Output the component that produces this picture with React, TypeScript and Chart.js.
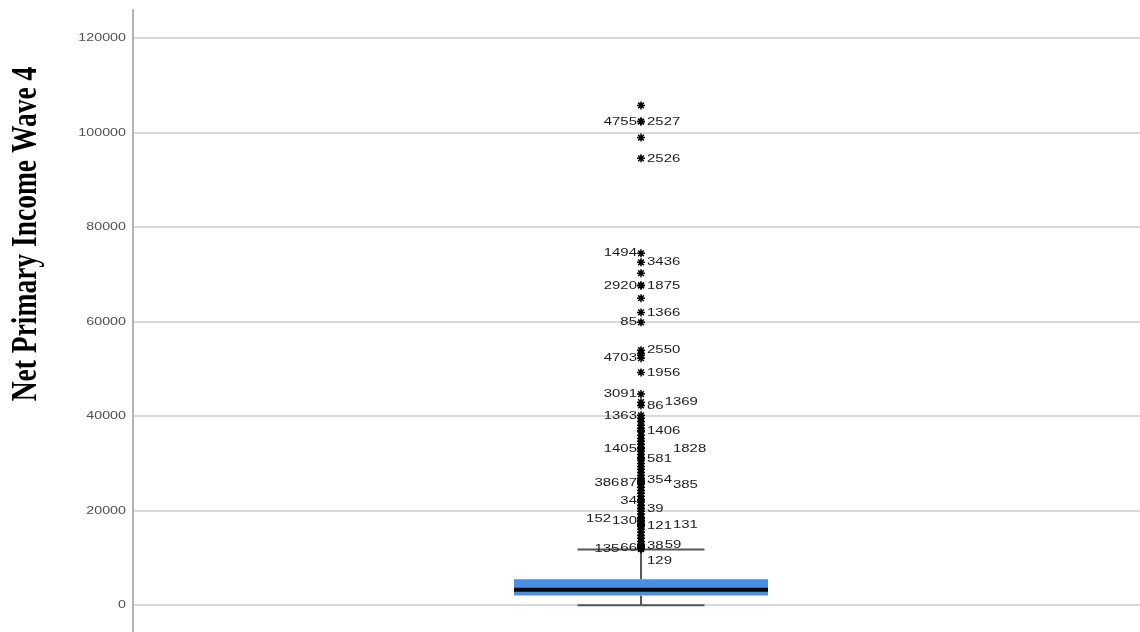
import { useEffect, useRef } from 'react';
import { Chart, registerables } from 'chart.js';

Chart.register(...registerables);

// ---- data -------------------------------------------------------------
const CATEGORIES = [''];
const Y_TITLE = 'Net Primary Income Wave 4';
const Y_TICKS = [0, 20000, 40000, 60000, 80000, 100000, 120000];
const Y_RANGE = [-5650, 126000];

// lower whisker, Q1, median, Q3, upper whisker
const BOX_SUMMARY = [0, 2100, 3300, 5500, 11800];

// outlying cases that carry a case-number label (listed in labelling order)
const LABELED_CASE_IDS = [
  '2527', '4755', '2526', '3436', '1494', '1875', '2920', '1366', '85', '2550',
  '4703', '1956', '86', '3091', '1369', '1363', '1406', '581', '1405', '1828',
  '354', '87', '385', '386', '39', '34', '121', '130', '131', '152',
  '38', '66', '59', '135', '129',
];
const LABELED_CASE_VALUES = [
  102400, 102400, 94600, 72600, 74500, 67700, 67700, 62000, 59900, 54000,
  52300, 49300, 42300, 44700, 43000, 40200, 37000, 31100, 33200, 33200,
  26500, 26000, 25600, 26000, 20500, 22200, 16900, 17800, 17100, 18400,
  12500, 12100, 12700, 11950, 11900,
];

// remaining outlying cases (no room for a label)
const UNLABELED_OUTLIERS = [
  105800, 99000, 70300, 65000, 53300, 52900,
  39600, 38900, 38100, 37500, 36800, 36000, 35300, 34700, 34100, 33400,
  32600, 31900, 31300, 30700, 30000, 29400, 28800, 28100, 27500, 26900,
  26200, 25600, 25000, 24300, 23700, 23100, 22400, 21800, 21200, 20500,
  19900, 19300, 18600, 18000, 17400, 16700, 16100, 15500, 14800, 14200,
  13500, 12900, 12300, 12000,
];

// ---- styling ----------------------------------------------------------
const BOX_COLOR = '#4a8fe2';
const TEXT_STRETCH = 1.3; // glyphs are drawn slightly widened
const TICK_FONT = '11px "Liberation Sans", Arial, sans-serif';
const LABEL_FONT = '11.5px "Liberation Sans", Arial, sans-serif';
const TITLE_FONT = 'bold 27.5px "Liberation Serif", "Times New Roman", serif';
const AXIS_WIDTH = 133;
const ROW = 12;

function drawStretched(ctx: CanvasRenderingContext2D, text: string, x: number, y: number, align: CanvasTextAlign) {
  ctx.save();
  ctx.translate(x, y);
  ctx.scale(TEXT_STRETCH, 1);
  ctx.textAlign = align;
  ctx.textBaseline = 'middle';
  ctx.fillText(text, 0, 0);
  ctx.restore();
}

type Box = { l: number; r: number; t: number; b: number; tier: number; text?: string; y?: number };

// Case labels sit beside their point: right first, then left, then one step
// further out; when a row is full the label drops to the next free row.
function placeCaseLabels(ctx: CanvasRenderingContext2D, cx: number, toPixel: (v: number) => number) {
  const placed: Box[] = [];
  const overlaps = (a: Box, b: Box) => a.l < b.r && a.r > b.l && a.t < b.b && a.b > b.t;
  const hits = (a: Box) => placed.filter((p) => overlaps(a, p));
  LABELED_CASE_IDS.forEach((id, i) => {
    const w = ctx.measureText(id).width * TEXT_STRETCH;
    const y0 = toPixel(LABELED_CASE_VALUES[i]);
    for (let k = 0; k < 8; k++) {
      const yy = y0 + k * ROW;
      const t = yy - ROW / 2;
      const b = yy + ROW / 2;
      const r1: Box = { l: cx + 6, r: cx + 6 + w, t, b, tier: 1 };
      const l1: Box = { l: cx - 4 - w, r: cx - 4, t, b, tier: 1 };
      const cands: Box[] = [r1, l1];
      const hr = hits(r1);
      const hl = hits(l1);
      if (hr.length && hr.every((p) => p.tier === 1)) {
        const x0 = Math.max(...hr.map((p) => p.r)) + 1;
        cands.push({ l: x0, r: x0 + w, t, b, tier: 2 });
      }
      if (hl.length && hl.every((p) => p.tier === 1)) {
        const x1 = Math.min(...hl.map((p) => p.l)) - 1;
        cands.push({ l: x1 - w, r: x1, t, b, tier: 2 });
      }
      const pick = cands.find((c) => hits(c).length === 0);
      if (pick) {
        placed.push({ ...pick, text: id, y: yy });
        break;
      }
    }
  });
  return placed;
}

const boxplotDecor = {
  id: 'boxplotDecor',
  beforeDatasetsDraw(chart: any) {
    const { ctx } = chart;
    const y = chart.scales.y;
    const bar = chart.getDatasetMeta(1).data[0];
    const cx = bar.x;
    const capHalf = bar.width / 4;
    const [lo, q1, , q3, hi] = BOX_SUMMARY;
    ctx.save();
    ctx.lineCap = 'butt';
    // whisker stems
    ctx.strokeStyle = '#222';
    ctx.lineWidth = 1.5;
    ctx.beginPath();
    ctx.moveTo(cx, y.getPixelForValue(q3));
    ctx.lineTo(cx, y.getPixelForValue(hi));
    ctx.moveTo(cx, y.getPixelForValue(q1));
    ctx.lineTo(cx, y.getPixelForValue(lo));
    ctx.stroke();
    // whisker caps
    ctx.strokeStyle = '#555';
    ctx.lineWidth = 2;
    ctx.beginPath();
    for (const v of [lo, hi]) {
      const py = y.getPixelForValue(v);
      ctx.moveTo(cx - capHalf, py);
      ctx.lineTo(cx + capHalf, py);
    }
    ctx.stroke();
    ctx.restore();
  },
  afterDatasetsDraw(chart: any) {
    const { ctx } = chart;
    const y = chart.scales.y;
    const bar = chart.getDatasetMeta(1).data[0];
    const cx = bar.x;
    const half = bar.width / 2;
    // median
    ctx.save();
    ctx.strokeStyle = '#080808';
    ctx.lineWidth = 4;
    const my = y.getPixelForValue(BOX_SUMMARY[2]);
    ctx.beginPath();
    ctx.moveTo(cx - half, my);
    ctx.lineTo(cx + half, my);
    ctx.stroke();
    // case labels
    ctx.font = LABEL_FONT;
    ctx.fillStyle = '#1c1c1c';
    const labels = placeCaseLabels(ctx, cx, (v) => y.getPixelForValue(v));
    for (const lb of labels) drawStretched(ctx, lb.text as string, lb.l, lb.y as number, 'left');
    ctx.restore();
  },
  afterDraw(chart: any) {
    const { ctx } = chart;
    const y = chart.scales.y;
    ctx.save();
    // tick labels
    ctx.font = TICK_FONT;
    ctx.fillStyle = '#505050';
    for (const v of Y_TICKS) drawStretched(ctx, String(v), AXIS_WIDTH - 7, y.getPixelForValue(v), 'right');
    // axis title
    ctx.font = TITLE_FONT;
    ctx.fillStyle = '#000';
    ctx.translate(36, 234);
    ctx.scale(TEXT_STRETCH, 1);
    ctx.rotate(-Math.PI / 2);
    ctx.textAlign = 'center';
    ctx.textBaseline = 'alphabetic';
    ctx.fillText(Y_TITLE, 0, 0);
    ctx.restore();
  },
};

export default function App() {
  const canvasRef = useRef<HTMLCanvasElement>(null);

  useEffect(() => {
    const outlierPoints = [
      ...LABELED_CASE_VALUES.map((v) => ({ x: CATEGORIES[0], y: v })),
      ...UNLABELED_OUTLIERS.map((v) => ({ x: CATEGORIES[0], y: v })),
    ];
    const chart = new Chart(canvasRef.current as HTMLCanvasElement, {
      type: 'bar',
      data: {
        labels: CATEGORIES,
        datasets: [
          {
            type: 'scatter',
            data: outlierPoints,
            pointStyle: 'star',
            radius: 4,
            borderColor: '#000',
            backgroundColor: '#000',
            borderWidth: 1.5,
          } as any,
          {
            type: 'bar',
            data: [[BOX_SUMMARY[1], BOX_SUMMARY[3]]],
            backgroundColor: BOX_COLOR,
            borderWidth: 0,
            barPercentage: 0.25,
            categoryPercentage: 1,
          } as any,
        ],
      },
      options: {
        animation: false,
        responsive: true,
        maintainAspectRatio: false,
        events: [],
        layout: { autoPadding: false, padding: { top: 10, left: 0, right: 0, bottom: -6 } },
        plugins: {
          legend: { display: false },
          tooltip: { enabled: false },
          title: { display: false },
        },
        scales: {
          x: { display: false },
          y: {
            min: Y_RANGE[0],
            max: Y_RANGE[1],
            afterFit: (s: any) => {
              s.width = AXIS_WIDTH;
            },
            afterBuildTicks: (s: any) => {
              s.ticks = Y_TICKS.map((v) => ({ value: v }));
            },
            ticks: { display: false },
            grid: { color: '#d9d9d9', lineWidth: 2, drawTicks: false },
            border: { color: '#b4b4b4', width: 2 },
          },
        },
      } as any,
      plugins: [boxplotDecor],
    });
    return () => chart.destroy();
  }, []);

  return (
    <div
      style={{
        position: 'fixed',
        left: 0,
        top: 0,
        width: 1140,
        height: 632,
        overflow: 'hidden',
        background: '#fff',
      }}
    >
      <div style={{ position: 'relative', width: 1149, height: 632 }}>
        <canvas ref={canvasRef} />
      </div>
    </div>
  );
}
